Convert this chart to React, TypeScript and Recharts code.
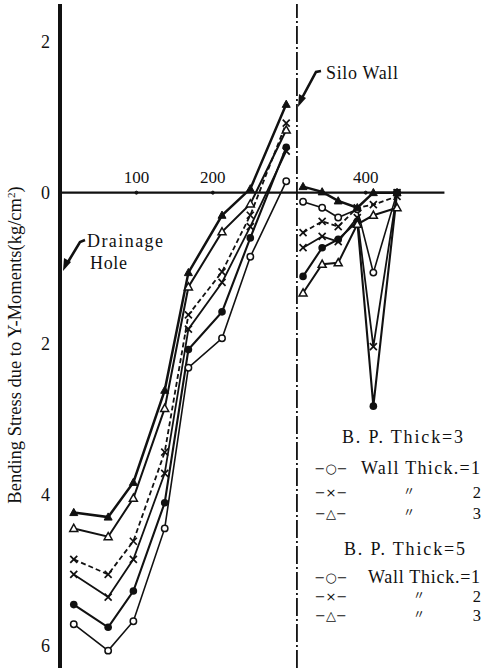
import React from 'react';
import { LineChart, Line, XAxis, YAxis, ReferenceLine, ReferenceDot } from 'recharts';

// positions along the section (cm); wall at X_WALL
const X_LEFT = [18, 63, 96, 137, 168, 212, 249, 296];
const X_WALL = 310;
const X_RIGHT = [318, 343, 364, 389, 410, 441];
const X_TICKS = [100, 200, 400];
const Y_TICKS = [2, 0, -2, -4, -6];

// B.P. Thick = 3
const OC_LEFT = [-5.72, -6.07, -5.68, -4.45, -2.32, -1.93, -0.85, 0.15];
const OC_RIGHT = [-0.12, -0.2, -0.33, -0.22, -1.06, 0];
const SX_LEFT = [-5.06, -5.36, -4.86, -3.72, -1.81, -1.19, -0.45, 0.55];
const SX_RIGHT = [-0.73, -0.58, -0.65, -0.33, -2.04, 0];
const OT_LEFT = [-4.45, -4.56, -4.05, -2.86, -1.25, -0.52, -0.15, 0.83];
const OT_RIGHT = [-1.33, -0.95, -0.93, -0.42, -0.3, -0.2];
// B.P. Thick = 5
const FC_LEFT = [-5.46, -5.76, -5.28, -4.11, -2.08, -1.58, -0.6, 0.6];
const FC_RIGHT = [-1.11, -0.73, -0.62, -0.38, -2.83, 0];
const DX_LEFT = [-4.86, -5.06, -4.62, -3.44, -1.62, -1.05, -0.3, 0.92];
const DX_RIGHT = [-0.53, -0.38, -0.45, -0.2, -0.16, -0.05];
const FT_LEFT = [-4.24, -4.3, -3.84, -2.62, -1.06, -0.3, 0.05, 1.17];
const FT_RIGHT = [0.08, 0.01, -0.11, -0.2, 0, 0];

const SERIES = [
  { key: 'oc', left: OC_LEFT, right: OC_RIGHT, marker: 'oc', width: 1.6, dash: undefined },
  { key: 'fc', left: FC_LEFT, right: FC_RIGHT, marker: 'fc', width: 2.1, dash: undefined },
  { key: 'sx', left: SX_LEFT, right: SX_RIGHT, marker: 'x', width: 1.8, dash: undefined },
  { key: 'dx', left: DX_LEFT, right: DX_RIGHT, marker: 'x', width: 1.8, dash: '5 3' },
  { key: 'ot', left: OT_LEFT, right: OT_RIGHT, marker: 'ot', width: 2.0, dash: undefined },
  { key: 'ft', left: FT_LEFT, right: FT_RIGHT, marker: 'ft', width: 2.5, dash: undefined },
];

const rows: any[] = [];
X_LEFT.forEach((x, i) => {
  const r: any = { x };
  SERIES.forEach((s) => (r[s.key] = s.left[i]));
  rows.push(r);
});
{
  const r: any = { x: X_WALL };
  SERIES.forEach((s) => (r[s.key] = null));
  rows.push(r);
}
X_RIGHT.forEach((x, i) => {
  const r: any = { x };
  SERIES.forEach((s) => (r[s.key] = s.right[i]));
  rows.push(r);
});

const INK = '#111';
const SERIF = 'Liberation Serif';

const Marker = ({ cx, cy, kind }: any) => {
  if (cx == null || cy == null || isNaN(cx) || isNaN(cy)) return <g />;
  if (kind === 'oc') return <circle cx={cx} cy={cy} r={3.2} fill="#fff" stroke={INK} strokeWidth={1.5} />;
  if (kind === 'fc') return <circle cx={cx} cy={cy} r={3.8} fill={INK} />;
  if (kind === 'x')
    return (
      <g stroke={INK} strokeWidth={1.7}>
        <line x1={cx - 3.5} y1={cy - 3.5} x2={cx + 3.5} y2={cy + 3.5} />
        <line x1={cx - 3.5} y1={cy + 3.5} x2={cx + 3.5} y2={cy - 3.5} />
      </g>
    );
  const pts = `${cx},${cy - 4.2} ${cx - 4},${cy + 3} ${cx + 4},${cy + 3}`;
  if (kind === 'ot') return <polygon points={pts} fill="#fff" stroke={INK} strokeWidth={1.5} />;
  return <polygon points={pts} fill={INK} stroke={INK} strokeWidth={1} />;
};

const LEGEND_GROUPS = [
  { title: 'B. P. Thick=3', titleX: 342, titleW: 121, y: 443, rowY: [474, 498, 519], textX: 361, dittoX: 403 },
  { title: 'B. P. Thick=5', titleX: 344, titleW: 121, y: 555, rowY: [583, 602, 621], textX: 368, dittoX: 413 },
];
const LEGEND_MARKS = ['−○−', '−×−', '−△−'];
const LEGEND_LABELS = ['Wall  Thick.=1', '2', '3'];

export default function App() {
  return (
    <div style={{ position: 'absolute', left: 0, top: 0, width: 489, height: 672, background: '#fff', fontFamily: SERIF }}>
      <LineChart width={489} height={672} data={rows} margin={{ top: 4, right: 1, bottom: 4, left: 0 }}>
        <XAxis type="number" dataKey="x" domain={[0, 560]} hide />
        <YAxis
          type="number"
          domain={[-6.3, 2.5]}
          ticks={Y_TICKS}
          allowDataOverflow
          width={60}
          tickFormatter={(v: number) => String(Math.abs(v))}
          axisLine={{ stroke: INK, strokeWidth: 4 }}
          tickLine={false}
          tickSize={0}
          tickMargin={10}
          tick={{ fontSize: 18, fill: INK, fontFamily: SERIF }}
        />
        <ReferenceLine segment={[{ x: 0, y: 0 }, { x: 503, y: 0 }]} stroke={INK} strokeWidth={2.2} />
        <ReferenceLine x={X_WALL} stroke={INK} strokeWidth={1.8} strokeDasharray="18 3 2 3" />
        {X_TICKS.map((t) => (
          <ReferenceDot
            key={t}
            x={t}
            y={0}
            r={1.5}
            fill={INK}
            stroke={INK}
            label={{ value: String(t), position: 'top', offset: 8, fontSize: 17, fill: INK, fontFamily: SERIF }}
          />
        ))}
        {SERIES.map((s) => (
          <Line
            key={s.key}
            dataKey={s.key}
            stroke={INK}
            strokeWidth={s.width}
            strokeDasharray={s.dash}
            isAnimationActive={false}
            connectNulls={false}
            dot={(p: any) => <Marker key={`${s.key}-${p.index}`} cx={p.cx} cy={p.cy} kind={s.marker} />}
            activeDot={false}
          />
        ))}
      </LineChart>
      <svg width={489} height={672} style={{ position: 'absolute', left: 0, top: 0, pointerEvents: 'none', fontFamily: SERIF }}>
        <text
          x={21}
          y={345}
          transform="rotate(-90 21 345)"
          textAnchor="middle"
          fontSize={18.5}
          fill={INK}
          style={{ fontFamily: SERIF }}
        >
          Bending  Stress  due  to  Y-Moments(kg/cm<tspan dy={-6} fontSize={11}>2</tspan>
          <tspan dy={6}>)</tspan>
        </text>
        {/* Silo wall annotation */}
        <text x={326} y={79} fontSize={18} style={{ fontFamily: SERIF }} fill={INK} textLength={72} lengthAdjust="spacing">Silo Wall</text>
        <path d="M321 71 L316 72 L302 98" fill="none" stroke={INK} strokeWidth={2.6} />
        <polygon points="298,107 299,94 306,98" fill={INK} />
        {/* Drainage hole annotation */}
        <text x={87} y={247} fontSize={18} style={{ fontFamily: SERIF }} fill={INK} textLength={76} lengthAdjust="spacing">Drainage</text>
        <text x={90} y={269} fontSize={18} style={{ fontFamily: SERIF }} fill={INK} textLength={37} lengthAdjust="spacing">Hole</text>
        <path d="M85 240 L80 242 L68 262" fill="none" stroke={INK} strokeWidth={2.6} />
        <polygon points="63,271 64,258 71,262" fill={INK} />
        {/* legend */}
        {LEGEND_GROUPS.map((g, gi) => (
          <g key={gi} fill={INK} style={{ fontFamily: SERIF }}>
            <text x={g.titleX} y={g.y} fontSize={18} textLength={g.titleW} lengthAdjust="spacing">
              {g.title}
            </text>
            {LEGEND_MARKS.map((m, ri) => (
              <g key={ri}>
                <text x={331} y={g.rowY[ri] - 1} fontSize={13} textAnchor="middle" style={{ fontFamily: 'DejaVu Sans' }}>
                  {m}
                </text>
                {ri === 0 ? (
                  <text x={g.textX} y={g.rowY[ri]} fontSize={18} textLength={480 - g.textX} lengthAdjust="spacing">
                    {LEGEND_LABELS[ri]}
                  </text>
                ) : (
                  <>
                    <text x={g.dittoX} y={g.rowY[ri] - 2} fontSize={12} style={{ fontFamily: 'Noto Sans CJK JP' }}>〃</text>
                    <text x={481} y={g.rowY[ri]} fontSize={16.5} textAnchor="end">{LEGEND_LABELS[ri]}</text>
                  </>
                )}
              </g>
            ))}
          </g>
        ))}
      </svg>
    </div>
  );
}
